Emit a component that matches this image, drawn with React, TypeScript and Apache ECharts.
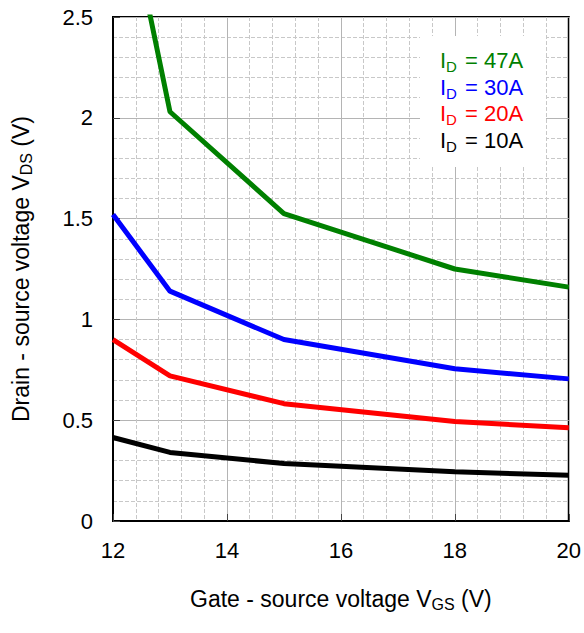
import React, { useEffect, useRef } from "react";
import * as echarts from "echarts";

const vgs = [12, 13, 15, 18, 20];
const id47 = [3.4, 2.03, 1.525, 1.25, 1.16];
const id30 = [1.52, 1.14, 0.9, 0.755, 0.705];
const id20 = [0.9, 0.72, 0.582, 0.493, 0.463];
const id10 = [0.414, 0.34, 0.285, 0.244, 0.227];
const seriesNames = ["47A", "30A", "20A", "10A"];
const seriesColors = ["#008000", "#0000ff", "#ff0000", "#000000"];
const seriesValues = [id47, id30, id20, id10];

const FONT = "Liberation Sans, Arial, sans-serif";

export default function App() {
  const ref = useRef<HTMLDivElement>(null);
  useEffect(() => {
    document.body.style.margin = "0";
    const chart = echarts.init(ref.current!, null, { renderer: "svg" });
    const legendTexts = seriesNames.map((n, i) => ({
      type: "text",
      left: 440,
      top: 47 + i * 26.5,
      z: 101,
      style: {
        text: `{n|I}{s|D}{n| = ${n}}`,
        fill: seriesColors[i],
        rich: {
          n: { fontSize: 22, fontFamily: FONT, fill: seriesColors[i], lineHeight: 26 },
          s: { fontSize: 15, fontFamily: FONT, fill: seriesColors[i], padding: [12, 2, 0, 0], lineHeight: 26 },
        },
      },
    }));
    const nameRich = {
      a: { fontSize: 23, fontFamily: FONT, color: "#000" },
      b: { fontSize: 16, fontFamily: FONT, color: "#000", padding: [11, 0, 0, 0] },
    };
    chart.setOption({
      animation: false,
      textStyle: { fontFamily: FONT },
      grid: {
        left: 113,
        top: 17,
        right: 15,
        bottom: 112,
        show: true,
        borderColor: "#000",
        borderWidth: 2,
        backgroundColor: "transparent",
      },
      xAxis: {
        type: "value",
        min: 12,
        max: 20,
        interval: 2,
        axisLine: { show: true, lineStyle: { color: "#000", width: 2 } },
        axisTick: { show: true, inside: true, length: 7, lineStyle: { color: "#444", width: 1 } },
        axisLabel: { fontSize: 22, color: "#000", margin: 18, fontFamily: FONT },
        splitLine: { show: true, lineStyle: { color: "#b4b4b4", width: 1 } },
        minorTick: { show: true, splitNumber: 5, length: 0 },
        minorSplitLine: { show: true, lineStyle: { color: "#c8c8c8", type: "dashed", width: 1 } },
        name: "{a|Gate - source voltage V}{b|GS}{a| (V)}",
        nameLocation: "middle",
        nameGap: 64,
        nameTextStyle: { rich: nameRich },
      },
      yAxis: {
        type: "value",
        min: 0,
        max: 2.5,
        interval: 0.5,
        axisLine: { show: true, lineStyle: { color: "#000", width: 2 } },
        axisTick: { show: true, inside: true, length: 7, lineStyle: { color: "#444", width: 1 } },
        axisLabel: { fontSize: 22, color: "#000", margin: 20, fontFamily: FONT },
        splitLine: { show: true, lineStyle: { color: "#b4b4b4", width: 1 } },
        minorTick: { show: true, splitNumber: 5, length: 0 },
        minorSplitLine: { show: true, lineStyle: { color: "#c8c8c8", type: "dashed", width: 1 } },
        name: "{a|Drain - source voltage V}{b|DS}{a| (V)}",
        nameLocation: "middle",
        nameRotate: 90,
        nameGap: 79,
        nameTextStyle: { rich: nameRich },
      },
      graphic: [
        {
          type: "rect",
          z: 100,
          shape: { x: 420, y: 36, width: 126, height: 131 },
          style: { fill: "#fff" },
        },
        ...legendTexts,
      ],
      series: seriesValues.map((vals, i) => ({
        type: "line",
        name: seriesNames[i],
        data: vgs.map((x, j) => [x, vals[j]]),
        symbol: "none",
        clip: true,
        lineStyle: { color: seriesColors[i], width: 5 },
        z: 10,
      })),
    });
    return () => chart.dispose();
  }, []);
  return <div ref={ref} style={{ width: 584, height: 633 }} />;
}
